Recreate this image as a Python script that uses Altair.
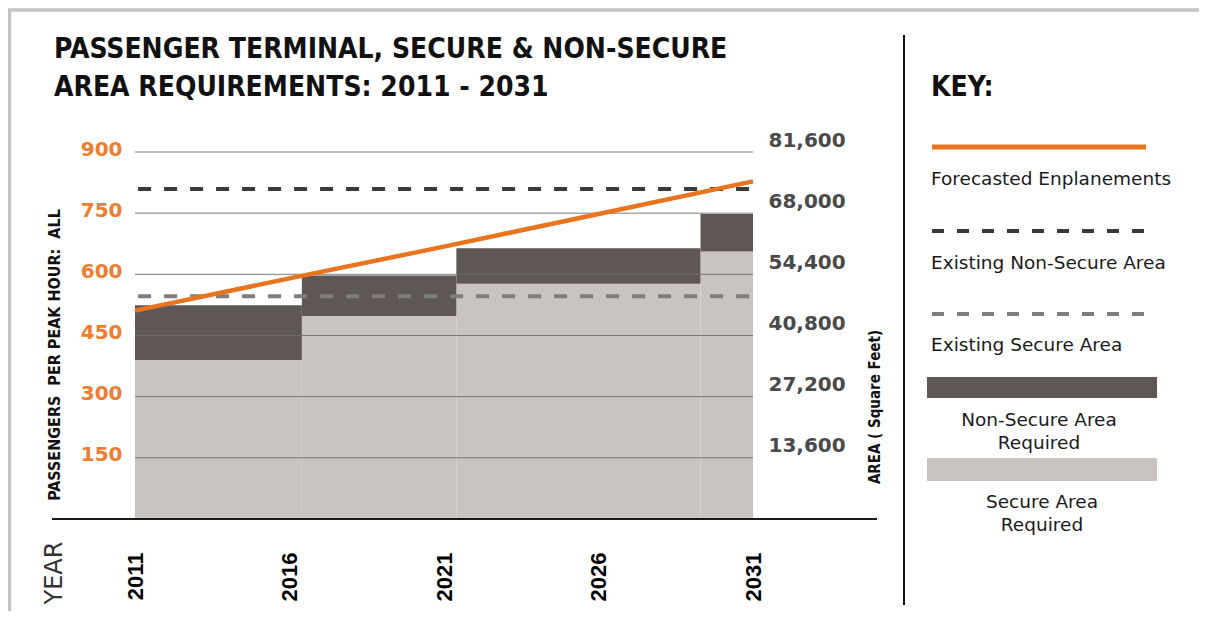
import altair as alt
import pandas as pd

# ---------------- data ----------------
year_ticks = [2011, 2016, 2021, 2026, 2031]
pax_ticks = [150, 300, 450, 600, 750, 900]
area_ticks = [13600, 27200, 40800, 54400, 68000, 81600]

phase_start = [2011, 2016.4, 2021.4, 2029.3]
phase_end = [2016.4, 2021.4, 2029.3, 2031]
secure_required = [390, 498, 577, 656]
total_required = [524, 597, 664, 748]

forecast_years = [2011, 2016, 2021, 2026, 2031]
forecast_pax = [511, 590, 668, 748, 828]

existing_levels = [809, 546]  # non-secure, secure

title_lines = ["PASSENGER TERMINAL, SECURE & NON-SECURE",
               "AREA REQUIREMENTS: 2011 - 2031"]
left_title = "PASSENGERS\u00a0\u00a0PER PEAK HOUR:\u00a0\u00a0ALL"
right_title = "AREA ( Square Feet)"
key_labels = ["Forecasted Enplanements", "Existing Non-Secure Area",
              "Existing Secure Area", "Non-Secure Area", "Required",
              "Secure Area", "Required"]

# ---------------- styles ----------------
W, H = 1191, 603
NARROW = "Liberation Sans Narrow, DejaVu Sans Condensed, Arial Narrow, sans-serif"
SANS = "DejaVu Sans, sans-serif"
ORANGE = "#E9741F"
DARK = "#5E5756"
LIGHT = "#C9C4C1"

XS = alt.Scale(domain=[2011, 2031], range=[127, 745], nice=False)
YS = alt.Scale(domain=[0, 900], range=[511, 144], nice=False)
AS = alt.Scale(domain=[0, 81600], range=[511, 144], nice=False)

x_axis = alt.Axis(orient="bottom", offset=-59, values=year_ticks, format="d",
                  labelAngle=270, labelPadding=0, labelFont="Liberation Sans, Arial, sans-serif",
                  labelFontWeight="bold", labelFontSize=22, labelColor="#000000",
                  labelFlush=False, labelOverlap=False, labelBound=False,
                  ticks=False, tickSize=0, domain=False, grid=False, title=None)
y_axis = alt.Axis(orient="left", offset=-127, values=pax_ticks, format="d",
                  labelPadding=13, labelOffset=-3, labelFont=SANS, labelFontWeight="bold",
                  labelFontSize=20, labelColor="#EE7D2F", labelFlush=False,
                  labelOverlap=False, ticks=False, tickSize=0, domain=False,
                  grid=False, title=None)
a_axis = alt.Axis(orient="right", offset=-442, values=area_ticks, format=",d",
                  labelPadding=11, labelOffset=-12, labelFont=SANS, labelFontWeight="bold",
                  labelFontSize=20, labelColor="#4A4A4A", labelFlush=False,
                  labelOverlap=False, ticks=False, tickSize=0, domain=False,
                  grid=False, title=None)

phases = pd.DataFrame({"start": phase_start, "end": phase_end,
                       "secure": secure_required, "top": total_required})
grid = pd.DataFrame({"pax": pax_ticks})
forecast = pd.DataFrame({"year": forecast_years, "pax": forecast_pax})
existing_ns = pd.DataFrame({"pax": [existing_levels[0]]})
existing_s = pd.DataFrame({"pax": [existing_levels[1]]})
one = pd.DataFrame({"k": [0]})
area_df = pd.DataFrame({"area": area_ticks})

secure_bars = alt.Chart(phases).mark_rect(color=LIGHT).encode(
    x=alt.X("start:Q", scale=XS, axis=x_axis), x2="end:Q",
    y=alt.Y("secure:Q", scale=YS, axis=y_axis), y2=alt.datum(0))
nonsecure_bars = alt.Chart(phases).mark_rect(color=DARK).encode(
    x=alt.X("start:Q", scale=XS, axis=x_axis), x2="end:Q",
    y=alt.Y("top:Q", scale=YS, axis=y_axis), y2="secure:Q")
grid_rules = alt.Chart(grid).mark_rule(color="#6F6F6F", strokeWidth=1, opacity=0.9).encode(
    x=alt.X(datum=2011, scale=XS, axis=x_axis), x2=alt.datum(2031),
    y=alt.Y("pax:Q", scale=YS, axis=y_axis))
baseline = alt.Chart(one).mark_rule(color="#1A1A1A", strokeWidth=2).encode(
    x=alt.value(44), x2=alt.value(869), y=alt.Y(datum=0, scale=YS, axis=y_axis))
ns_line = alt.Chart(existing_ns).mark_rule(color="#3A3A3A", strokeWidth=4, strokeDash=[13, 13]).encode(
    x=alt.X(datum=2011.1, scale=XS, axis=x_axis), x2=alt.datum(2031),
    y=alt.Y("pax:Q", scale=YS, axis=y_axis))
s_line = alt.Chart(existing_s).mark_rule(color="#7E7E7E", strokeWidth=4, strokeDash=[13, 13]).encode(
    x=alt.X(datum=2011.1, scale=XS, axis=x_axis), x2=alt.datum(2031),
    y=alt.Y("pax:Q", scale=YS, axis=y_axis))
forecast_line = alt.Chart(forecast).mark_line(color=ORANGE, strokeWidth=4.5).encode(
    x=alt.X("year:Q", scale=XS, axis=x_axis), y=alt.Y("pax:Q", scale=YS, axis=y_axis))

main = alt.layer(secure_bars, nonsecure_bars, grid_rules, baseline, ns_line, s_line, forecast_line)

right_axis = alt.Chart(area_df).mark_point(opacity=0).encode(
    y=alt.Y("area:Q", scale=AS, axis=a_axis))

plot = alt.layer(main, right_axis).resolve_scale(y="independent")


def text(t, x, y, size, font=SANS, weight="normal", color="#1A1A1A", align="left", angle=0):
    return alt.Chart(one).mark_text(text=t, font=font, fontSize=size, fontWeight=weight,
                                    color=color, align=align, baseline="middle",
                                    angle=angle).encode(x=alt.value(x), y=alt.value(y))


def rule(x, x2, y, y2, color, width, dash=None):
    kw = dict(color=color, strokeWidth=width)
    if dash:
        kw["strokeDash"] = dash
    return alt.Chart(one).mark_rule(**kw).encode(
        x=alt.value(x), x2=alt.value(x2), y=alt.value(y), y2=alt.value(y2))


def box(x, x2, y, y2, color):
    return alt.Chart(one).mark_rect(color=color).encode(
        x=alt.value(x), x2=alt.value(x2), y=alt.value(y), y2=alt.value(y2))


deco = [
    rule(0, W, 2, 2, "#C4C4C4", 3.5),
    rule(1.5, 1.5, 2, H, "#C4C4C4", 3.5),
    text(title_lines[0], 46, 42, 28, font=NARROW, weight="bold", color="#111111"),
    text(title_lines[1], 46, 80, 28, font=NARROW, weight="bold", color="#111111"),
    text(left_title, 47, 347, 16, font=NARROW, weight="bold", color="#111111", align="center", angle=270),
    text(right_title, 867, 399, 15, font=NARROW, weight="bold", color="#111111", align="center", angle=270),
    text("YEAR", 47, 565, 24, color="#333333", align="center", angle=270),
    rule(896, 896, 27, 597, "#111111", 2),
    text("KEY:", 923, 80, 28, font=NARROW, weight="bold", color="#111111"),
    rule(924, 1138, 139, 139, ORANGE, 5),
    text(key_labels[0], 923, 171, 18.5),
    rule(924, 1138, 223, 223, "#3A3A3A", 4, [12, 13]),
    text(key_labels[1], 923, 255, 18.5),
    rule(924, 1138, 306, 306, "#7E7E7E", 4, [12, 13]),
    text(key_labels[2], 923, 337, 18.5),
    box(919, 1149, 369, 390, DARK),
    text(key_labels[3], 1031, 412, 18.5, align="center"),
    text(key_labels[4], 1031, 435, 18.5, align="center"),
    box(919, 1149, 450, 473, LIGHT),
    text(key_labels[5], 1034, 494, 18.5, align="center"),
    text(key_labels[6], 1034, 517, 18.5, align="center"),
]

chart = alt.layer(plot, *deco).properties(
    width=W, height=H, padding=0,
    autosize=alt.AutoSizeParams(type="none"),
    background="#FFFFFF",
).configure_view(strokeWidth=0)

chart.save("out.html", embed_options={"renderer": "svg", "actions": False})
